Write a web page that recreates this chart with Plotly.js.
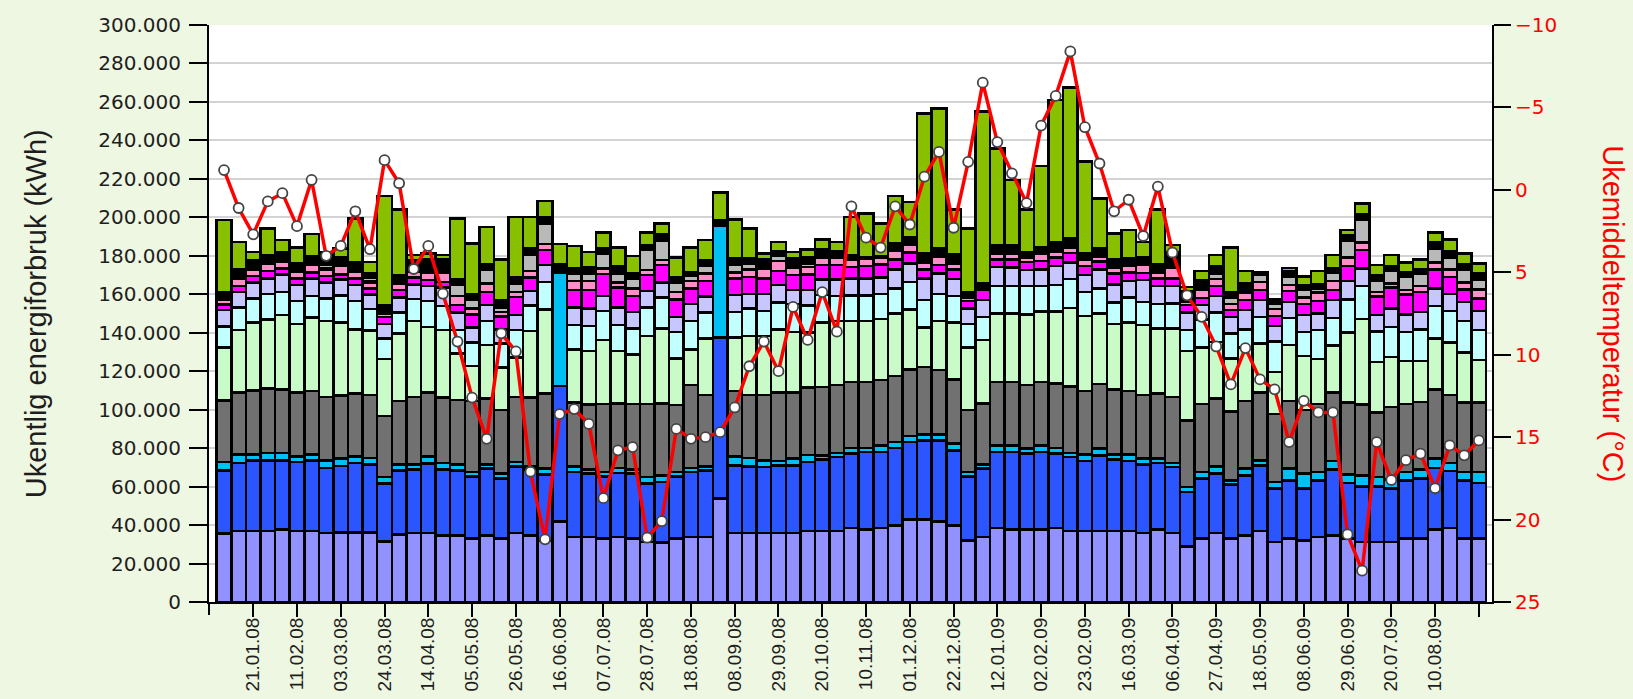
<!DOCTYPE html>
<html>
<head>
<meta charset="utf-8">
<script src="https://cdn.plot.ly/plotly-3.0.1.min.js"></script>
<style>
  html, body { margin: 0; padding: 0; background: #eef7e1; }
  #chart { width: 1633px; height: 699px; }
</style>
</head>
<body>
<div id="chart"></div>
<script>
// Weeks (Monday of each week)
const weeks = [
 '07.01.08','14.01.08','21.01.08','28.01.08','04.02.08','11.02.08','18.02.08','25.02.08',
 '03.03.08','10.03.08','17.03.08','24.03.08','31.03.08','07.04.08','14.04.08','21.04.08','28.04.08',
 '05.05.08','12.05.08','19.05.08','26.05.08','02.06.08','09.06.08','16.06.08','23.06.08','30.06.08',
 '07.07.08','14.07.08','21.07.08','28.07.08','04.08.08','11.08.08','18.08.08','25.08.08',
 '01.09.08','08.09.08','15.09.08','22.09.08','29.09.08','06.10.08','13.10.08','20.10.08','27.10.08',
 '03.11.08','10.11.08','17.11.08','24.11.08','01.12.08','08.12.08','15.12.08','22.12.08','29.12.08',
 '05.01.09','12.01.09','19.01.09','26.01.09','02.02.09','09.02.09','16.02.09','23.02.09',
 '02.03.09','09.03.09','16.03.09','23.03.09','30.03.09','06.04.09','13.04.09','20.04.09','27.04.09',
 '04.05.09','11.05.09','18.05.09','25.05.09','01.06.09','08.06.09','15.06.09','22.06.09','29.06.09',
 '06.07.09','13.07.09','20.07.09','27.07.09','03.08.09','10.08.09','17.08.09','24.08.09','31.08.09'
];

const tickWeeks = ['21.01.08','11.02.08','03.03.08','24.03.08','14.04.08','05.05.08','26.05.08','16.06.08',
 '07.07.08','28.07.08','18.08.08','08.09.08','29.09.08','20.10.08','10.11.08','01.12.08','22.12.08',
 '12.01.09','02.02.09','23.02.09','16.03.09','06.04.09','27.04.09','18.05.09','08.06.09','29.06.09',
 '20.07.09','10.08.09','31.08.09'];
const tickText = ['21.01.08','11.02.08','03.03.08','24.03.08','14.04.08','05.05.08','26.05.08','16.06.08',
 '07.07.08','28.07.08','18.08.08','08.09.08','29.09.08','20.10.08','10.11.08','01.12.08','22.12.08',
 '12.01.09','02.02.09','23.02.09','16.03.09','06.04.09','27.04.09','18.05.09','08.06.09','29.06.09',
 '20.07.09','10.08.09',''];

// Weekly energy use per sub-meter (kWh), bottom to top of the stack
const serie1 = [35500,36900,36900,36900,37800,36900,36900,35900,36200,36200,
36200,31400,35000,35900,35900,34700,34700,32900,34700,32900,
35900,34700,31700,41900,33800,33800,32900,33800,32900,31200,
31000,32900,33800,33800,53700,35900,35900,35900,36000,36000,
36900,36900,36900,38600,37800,38600,39900,42800,42800,41900,
39900,32100,33800,38600,37800,37800,37800,38600,36900,36900,
36900,36900,36900,35900,37800,35900,28900,32900,35900,32900,
34700,36900,31200,32900,32100,33800,34700,32900,31200,31200,
31200,32900,32900,37800,38600,32900,32900];

const serie2 = [33000,35500,36800,36800,35900,35900,36800,33800,34500,36200,
35400,30100,33500,32900,36000,34100,33800,32400,34600,31200,
34600,34100,34700,70400,33800,32900,32400,33300,33800,30300,
31400,32400,33800,34700,83900,35200,34600,34300,35100,35100,
35900,37100,38500,38500,40200,39400,40300,40400,41300,42200,
39000,33200,35500,39400,40200,39300,40200,38500,38500,36400,
39400,37100,36400,35700,34500,34300,28300,31200,31000,28300,
31200,34200,27700,30400,26800,29500,34100,29000,28900,28900,
27700,30400,31200,32000,29500,30400,29000];

const serie3 = [4300,4200,2900,3800,3800,2900,2900,4000,3800,3300,
3300,3500,3100,2800,3800,3500,3100,2300,2300,2600,
2300,1700,2900,58900,2900,2100,2300,2600,2100,3500,
3500,2300,2100,2000,57900,4600,4500,3500,2200,3400,
3700,2300,2100,3100,2200,3500,3000,3100,3100,3100,
3400,2300,2300,3500,3500,2600,3500,3100,2100,3300,
3400,2600,3300,2900,2200,2100,2600,3500,3600,2100,
3400,2600,3500,6000,7800,4300,4500,4500,5800,4900,
4700,4300,4700,4700,4200,4300,5700];

const serie4 = [32000,32200,33400,33500,33100,33100,33100,33000,32900,32800,
32700,31800,33000,35100,33100,33900,33400,37000,34300,33100,
33900,35900,39200,0,33100,33900,35300,33600,34100,37900,
37400,34800,43100,37100,0,34100,32600,33900,35500,34300,
35100,35600,35300,34300,34300,33900,34300,34700,35100,33400,
33400,32200,31700,33000,33000,33100,33000,33500,34500,33200,
33600,33900,33200,33100,34000,34400,34500,35300,35400,35800,
35300,35100,35300,35300,33100,35300,35500,37200,36700,33600,
37900,35300,35300,36000,35300,36000,36000];

const serie5 = [27500,32600,35400,35900,38600,35700,38300,39500,38000,33200,
33500,29500,35000,39500,34300,35200,24300,18200,27600,22200,
20500,34400,43700,0,27700,27900,33300,27300,25900,35400,
39000,24300,18500,29300,0,27800,30700,30700,32900,31700,
28400,33300,33400,31700,31600,31700,32600,31100,20300,25600,
29500,32400,32900,35600,35600,36600,36500,37300,40900,39000,
36800,34000,35400,36400,33800,35600,36300,29500,29400,27500,
27800,25600,22000,29000,28000,23400,24500,36400,44600,26300,
26000,22500,21300,26600,27200,26000,22200];

const serie6 = [11000,11800,12500,13200,12100,12000,11100,11500,14000,14900,
11200,10600,10800,11300,13500,12600,12100,12000,12600,12300,
14200,13300,14200,0,12700,12800,15200,13400,13500,14700,
15900,13800,14800,13500,0,13300,14400,13000,14100,14400,
14200,14400,12900,13200,13300,13000,12900,14400,14400,13900,
13900,12300,12100,14300,14300,14800,13300,13800,15000,12500,
13000,11100,13200,12100,12600,13000,10800,14600,15100,13000,
9400,13800,15800,14000,12500,15000,14300,17300,17000,15700,
15600,15100,16300,16800,16600,16400,15600];

const serie7 = [8500,8100,8300,8200,9000,8300,9200,8500,8300,8200,
7500,7600,8000,7600,7800,9500,9000,7800,8300,7500,
7900,7600,8700,0,9200,9300,7700,9200,8600,8800,
8000,7800,8800,8500,0,8800,7400,8800,9000,7300,
8000,8200,8700,8900,8900,8700,10000,9600,11300,10800,
8800,8200,8700,9900,9600,8400,8700,9900,8600,8700,
9800,9500,8600,11400,9400,9000,9000,7500,8700,8600,
9900,8700,8100,8400,8800,8700,9300,9600,9100,8500,
9600,9000,9200,9200,8700,10000,10000];

const serie8 = [2900,3100,3300,3900,3100,3500,2900,3300,2500,3500,
3300,3700,3800,3700,3000,3000,4000,6900,6900,6700,
9300,7100,7800,0,9000,9500,11500,10400,8300,8200,
9000,9000,8200,7900,0,8600,9000,8100,7400,7800,
8000,7400,7400,6000,6500,6700,5200,5500,4600,4300,
4900,3800,5500,3900,4000,4300,4400,4500,4900,4600,
4200,5800,4200,3500,4000,3900,4000,3500,5100,3700,
5200,5300,5200,5700,5900,6400,5300,7700,9700,9800,
10800,10300,10400,9700,9000,6600,6500];

const serie9 = [2300,3800,3400,3800,3500,3400,4000,3400,4600,3400,
3100,1900,3400,3100,3800,4700,4700,3200,4200,2300,
2700,3400,3200,0,4800,4600,2800,2400,3800,2600,
2600,4000,3900,4000,0,2900,3900,5200,5200,4000,
4100,4000,4000,3500,3900,3300,4300,4000,3300,4300,
3200,1900,1500,2700,3000,2300,3500,2900,2600,3200,
2400,3100,3600,4200,2900,5800,1600,4200,3700,3000,
4000,4300,3600,3100,3400,4500,4800,4600,4000,2400,
2200,2400,3000,3600,3800,3400,4600];

const serie10 = [0,0,0,0,0,0,0,800,0,1000,
800,0,0,0,0,0,0,0,0,0,
0,0,0,0,0,0,0,0,0,0,
0,0,0,0,0,0,0,800,0,0,
0,0,0,0,0,0,0,0,1300,0,
0,0,0,0,0,0,0,0,0,0,
0,0,0,0,1000,0,0,0,0,0,
0,0,0,0,0,0,0,0,0,0,
0,0,0,0,0,0,0];

const serie11 = [0,0,0,0,0,0,0,1500,0,1200,
1500,0,0,0,0,1300,5800,4300,7500,2400,
4000,8200,10700,0,3800,4000,7500,4800,5200,10400,
10000,4700,2500,4000,0,4000,3000,0,2600,0,
1700,1200,0,0,0,0,0,0,0,0,
0,0,0,0,0,0,0,0,0,0,
0,0,0,0,0,0,0,0,2800,3500,
1600,3500,2800,4300,3800,2200,4200,8600,11900,5900,
6500,6900,6200,7500,6300,6600,4900];

const serie12 = [3800,4700,4900,4400,4700,4300,4700,6000,4200,3000,
2300,4300,4400,5600,6800,5500,2800,3100,2700,3800,
3800,3400,3500,4500,2600,3200,2900,3900,2600,2600,
3500,2800,1700,3000,3100,3500,2700,3900,2600,4700,
3000,2900,3400,2600,800,1200,3900,4000,3700,4300,
4900,2400,1600,4700,4600,2900,3800,4700,5000,3600,
4300,4100,3900,4000,3500,8000,5500,5200,4000,2400,
3100,1700,2100,2800,2600,2300,2200,3000,2800,2800,
2500,2600,2400,2900,3400,3100,3400];

const serie13 = [37800,14400,4300,13800,6600,8400,11400,500,4800,22500,
6100,56700,34100,2900,3200,2400,31700,26300,19400,21100,
31200,16500,8200,10400,11700,8100,8200,9500,9200,6400,
5500,10400,13200,10400,14200,20200,15500,3100,4700,3400,
4300,5200,4700,19900,22500,16800,24700,18500,72900,72900,
23200,33400,89300,50200,33800,22000,42000,74200,78600,47600,
26100,13500,14700,8100,28400,3600,2400,4800,5700,23600,
6600,0,0,1700,4500,6700,7000,2600,5500,5200,
5700,4700,5200,5200,5900,5500,5200];

// Weekly mean temperature (°C)
const temperatur = [-1.2,1.1,2.7,0.7,0.2,2.2,-0.6,4.0,3.4,1.3,
3.6,-1.8,-0.4,4.8,3.4,6.3,9.2,12.6,15.1,8.7,
9.8,17.1,21.2,13.6,13.3,14.2,18.7,15.8,15.6,21.1,
20.1,14.5,15.1,15.0,14.7,13.2,10.7,9.2,11.0,7.1,
9.1,6.2,8.6,1.0,2.9,3.5,1.0,2.1,-0.8,-2.3,
2.3,-1.7,-6.5,-2.9,-1.0,0.8,-3.9,-5.7,-8.4,-3.8,
-1.6,1.3,0.6,2.8,-0.2,3.8,6.4,7.7,9.5,11.8,
9.6,11.5,12.1,15.3,12.8,13.5,13.5,20.9,23.1,15.3,
17.6,16.4,16.0,18.1,15.5,16.1,15.2];

const stackSeries = [
  {name: 'Serie 1',  y: serie1,  color: '#9191ff'},
  {name: 'Serie 2',  y: serie2,  color: '#2b55ff'},
  {name: 'Serie 3',  y: serie3,  color: '#00bff2'},
  {name: 'Serie 4',  y: serie4,  color: '#717171'},
  {name: 'Serie 5',  y: serie5,  color: '#c8fbc8'},
  {name: 'Serie 6',  y: serie6,  color: '#c2ffff'},
  {name: 'Serie 7',  y: serie7,  color: '#c8c6ff'},
  {name: 'Serie 8',  y: serie8,  color: '#ff00ff'},
  {name: 'Serie 9',  y: serie9,  color: '#ff8ec8'},
  {name: 'Serie 10', y: serie10, color: '#ff8030'},
  {name: 'Serie 11', y: serie11, color: '#b9b9b9'},
  {name: 'Serie 12', y: serie12, color: '#000000'},
  {name: 'Serie 13', y: serie13, color: '#88c000'}
];

const traces = stackSeries.map(s => ({
  type: 'bar', name: s.name, x: weeks, y: s.y,
  marker: {color: s.color, line: {color: '#000000', width: 2.5}},
  hoverinfo: 'x+y+name'
}));

traces.push({
  type: 'scatter', mode: 'lines+markers', name: 'Ukemiddeltemperatur',
  x: weeks, y: temperatur, yaxis: 'y2',
  line: {color: '#ff0000', width: 3.5},
  marker: {symbol: 'circle', size: 10, color: '#ffffff', line: {color: '#444444', width: 1.8}}
});

const layout = {
  width: 1633, height: 699,
  paper_bgcolor: '#eef7e1',
  plot_bgcolor: '#ffffff',
  separators: ',.',
  font: {family: 'Liberation Sans, Arial, sans-serif', color: '#1e1e1e'},
  margin: {l: 209, r: 141, t: 25, b: 97, pad: 0},
  barmode: 'stack',
  bargap: 0,
  showlegend: false,
  xaxis: {
    type: 'category',
    range: [-1.03, 86.9],
    tickmode: 'array', tickvals: tickWeeks, ticktext: tickText,
    tickangle: -90,
    tickfont: {family: 'Liberation Sans, Arial, sans-serif', size: 19, color: '#1e1e1e'},
    ticks: 'outside', ticklen: 13, tickwidth: 2, tickcolor: '#000000',
    ticklabelstandoff: -7,
    showline: true, linecolor: '#000000', linewidth: 2,
    showgrid: false, zeroline: false
  },
  yaxis: {
    range: [0, 300000], dtick: 20000, tick0: 0,
    tickformat: ',d',
    tickfont: {family: 'DejaVu Sans, sans-serif', size: 20, color: '#1e1e1e'},
    ticks: 'outside', ticklen: 18, tickwidth: 2, tickcolor: '#000000',
    ticklabelstandoff: 4,
    showline: true, linecolor: '#000000', linewidth: 2,
    showgrid: true, gridcolor: '#d3d3d3', gridwidth: 2,
    zeroline: false
  },
  yaxis2: {
    overlaying: 'y', side: 'right',
    range: [25, -10], dtick: 5, tick0: 0,
    tickfont: {family: 'DejaVu Sans, sans-serif', size: 20, color: '#ff0000'},
    ticks: 'outside', ticklen: 17, tickwidth: 2, tickcolor: '#000000',
    showline: true, linecolor: '#000000', linewidth: 2,
    showgrid: false, zeroline: false
  },
  annotations: [
    {text: 'Ukentlig energiforbruk (kWh)', xref: 'paper', yref: 'paper',
     x: -0.135, y: 0.5, xanchor: 'center', yanchor: 'middle', textangle: -90,
     showarrow: false, font: {family: 'Liberation Sans, Arial, sans-serif', size: 29, color: '#1e1e1e'}},
    {text: 'Ukemiddeltemperatur (°C)', xref: 'paper', yref: 'paper',
     x: 1.0945, y: 0.5, xanchor: 'center', yanchor: 'middle', textangle: 90,
     showarrow: false, font: {family: 'Liberation Sans, Arial, sans-serif', size: 29, color: '#ff0000'}}
  ],
  shapes: [
    {type: 'line', xref: 'paper', yref: 'paper', x0: 0, x1: 0, y0: 0, y1: -0.0225,
     line: {color: '#000000', width: 2}}
  ]
};

Plotly.newPlot('chart', traces, layout, {displayModeBar: false, staticPlot: true});
</script>
</body>
</html>
